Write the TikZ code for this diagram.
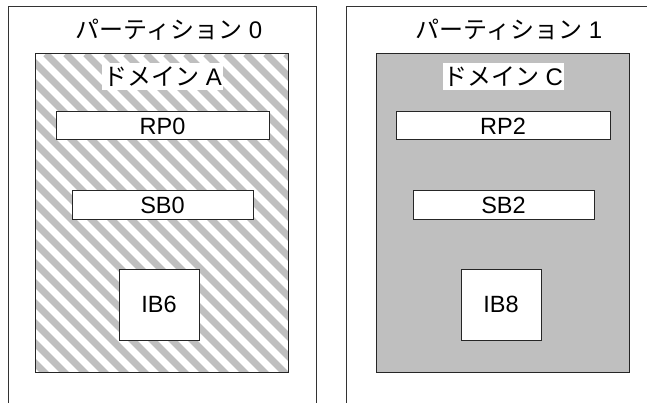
\documentclass[tikz,border=0pt]{standalone}
\usepackage{fontspec}
\setmainfont{Liberation Sans}
\newfontfamily\jp{Noto Sans CJK JP}
\begin{document}
\begin{tikzpicture}[x=1pt,y=-1pt,
  frame/.style={draw=black!80, line width=1pt},
  domainbox/.style={rectangle, inner sep=0pt, minimum width=252pt, minimum height=318pt},
  domainline/.style={draw=black!85, line width=1.3pt},
  unit/.style={draw=black!85, line width=1pt, fill=white, rectangle, inner sep=0pt, font=\fontsize{23.5}{26}\selectfont},
  title/.style={font=\fontsize{24}{26}\selectfont, inner sep=0pt},
  dlabel/.style={fill=white, inner sep=0pt, minimum width=121pt, minimum height=27pt, font=\fontsize{24}{26}\selectfont},
  stripe/.style={draw=black!25, line width=7pt}
]
\useasboundingbox (0,0) rectangle (647,403);
% partitions
\coordinate (p0a) at (8,410);
\coordinate (p0b) at (316,7);
\coordinate (p0c) at (316,410);
\coordinate (p1a) at (346.5,410);
\coordinate (p1b) at (660,7);
\draw[frame] (p0a) |- (p0b) -- (p0c);
\draw[frame] (p1a) |- (p1b);
\node[title] (t0) at (169,30) {{\jp パーティション} 0};
\node[title] (t1) at (509,30) {{\jp パーティション} 1};
% domain A (striped)
\node[domainbox, fill=white] (domA) at (162,213) {};
\begin{scope}
  \clip (domA.north west) rectangle (domA.south east);
  \foreach \k in {0,...,32}
    \draw[stripe] ([xshift=\k*20pt-330pt]domA.north west) -- ++(340,340);
\end{scope}
\draw[domainline] (domA.north west) rectangle (domA.south east);
% domain C (gray)
\node[domainbox, fill=black!25] (domC) at (503,213) {};
\draw[domainline] (domC.north west) rectangle (domC.south east);
% labels
\node[dlabel] (lA) at (162.5,76.5) {{\jp ドメイン} A};
\node[dlabel] (lC) at (503,76.5) {{\jp ドメイン} C};
% units
\node[unit, minimum width=213pt, minimum height=28pt] (rp0) at (162.5,126) {RP0};
\node[unit, minimum width=181pt, minimum height=29pt] (sb0) at (162.5,205.5) {SB0};
\node[unit, minimum width=80pt, minimum height=71pt] (ib6) at (159,304.5) {IB6};
\node[unit, minimum width=214pt, minimum height=28pt] (rp2) at (503,126) {RP2};
\node[unit, minimum width=181pt, minimum height=29pt] (sb2) at (503.5,205.5) {SB2};
\node[unit, minimum width=80pt, minimum height=71pt] (ib8) at (501,304.5) {IB8};
\end{tikzpicture}
\end{document}
